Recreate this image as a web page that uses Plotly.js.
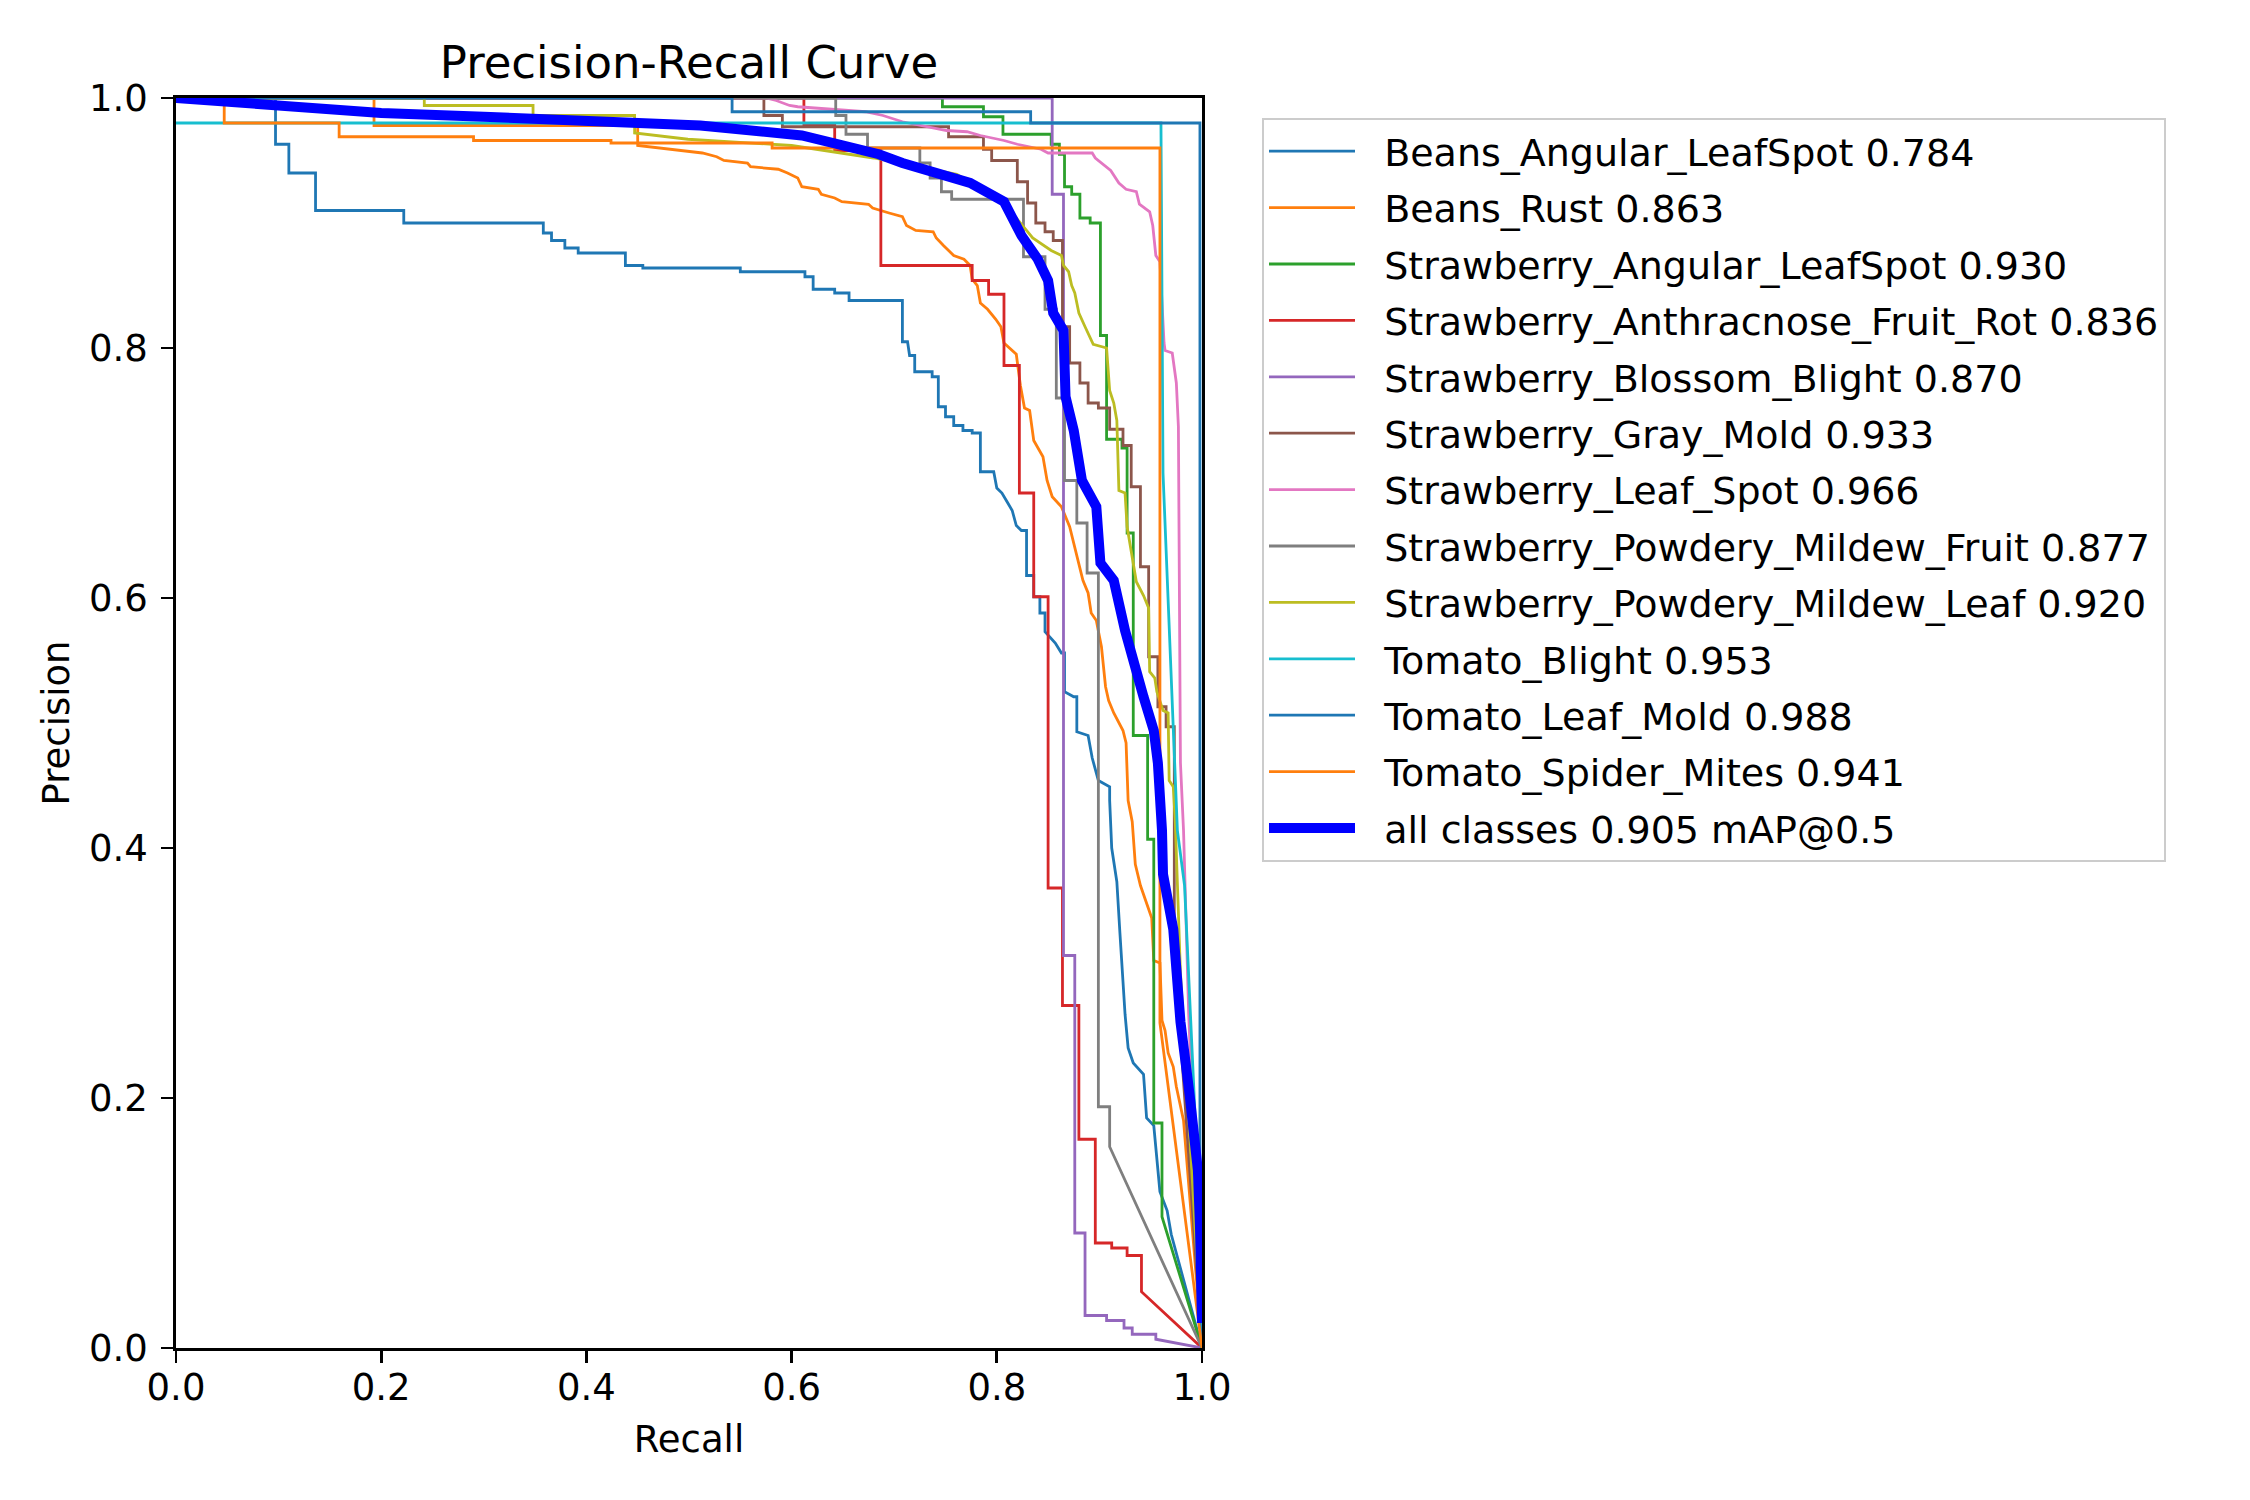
<!DOCTYPE html>
<html>
<head>
<meta charset="utf-8">
<script src="https://cdn.plot.ly/plotly-3.0.1.min.js"></script>
<style>
  body { margin: 0; background: #fff; }
  #chart { width: 2250px; height: 1500px; }
</style>
</head>
<body>
<div id="chart"></div>
<script>
// class names and their AP@0.5
const classNames = [
  "Beans_Angular_LeafSpot", "Beans_Rust", "Strawberry_Angular_LeafSpot",
  "Strawberry_Anthracnose_Fruit_Rot", "Strawberry_Blossom_Blight", "Strawberry_Gray_Mold",
  "Strawberry_Leaf_Spot", "Strawberry_Powdery_Mildew_Fruit", "Strawberry_Powdery_Mildew_Leaf",
  "Tomato_Blight", "Tomato_Leaf_Mold", "Tomato_Spider_Mites",
];
const classAP = [0.784, 0.863, 0.930, 0.836, 0.870, 0.933, 0.966, 0.877, 0.920, 0.953, 0.988, 0.941];
const allClassesMAP = 0.905;

// recall / precision vertices
const rBeansAngular = [0,0.097,0.097,0.110,0.110,0.136,0.136,0.222,0.222,0.358,0.358,0.366,0.366,0.379,0.379,0.392,0.392,0.438,0.438,0.455,0.455,0.550,0.550,0.613,0.613,0.621,0.621,0.642,0.642,0.656,0.656,0.708,0.708,0.713,0.715,0.720,0.720,0.737,0.737,0.743,0.743,0.750,0.750,0.758,0.758,0.767,0.767,0.776,0.776,0.784,0.784,0.797,0.800,0.805,0.810,0.815,0.819,0.824,0.829,0.829,0.836,0.836,0.842,0.842,0.847,0.847,0.857,0.863,0.866,0.866,0.875,0.878,0.878,0.889,0.893,0.896,0.899,0.910,0.910,0.912,0.917,0.920,0.925,0.928,0.933,0.943,0.946,0.953,0.956,0.959,0.966,0.970,1.0];
const pBeansAngular = [1,1,0.963,0.963,0.940,0.940,0.910,0.910,0.900,0.900,0.892,0.892,0.886,0.886,0.880,0.880,0.876,0.876,0.866,0.866,0.864,0.864,0.861,0.861,0.857,0.857,0.847,0.847,0.844,0.844,0.838,0.838,0.805,0.805,0.794,0.794,0.781,0.781,0.777,0.777,0.753,0.753,0.745,0.745,0.738,0.738,0.734,0.734,0.732,0.732,0.701,0.701,0.688,0.684,0.677,0.670,0.658,0.654,0.654,0.618,0.618,0.601,0.601,0.588,0.588,0.573,0.564,0.556,0.556,0.525,0.521,0.521,0.493,0.490,0.472,0.462,0.454,0.449,0.438,0.400,0.373,0.332,0.267,0.240,0.228,0.219,0.184,0.178,0.148,0.125,0.110,0.091,0.0];

const rBeansRust = [0,0.193,0.193,0.450,0.450,0.485,0.513,0.527,0.534,0.557,0.560,0.587,0.596,0.606,0.610,0.626,0.629,0.642,0.649,0.675,0.679,0.695,0.708,0.712,0.721,0.738,0.741,0.748,0.758,0.768,0.774,0.776,0.781,0.784,0.791,0.799,0.804,0.807,0.819,0.823,0.827,0.832,0.836,0.845,0.849,0.854,0.863,0.871,0.875,0.881,0.884,0.889,0.892,0.897,0.902,0.906,0.909,0.914,0.919,0.923,0.926,0.928,0.932,0.935,0.940,0.946,0.951,0.953,0.959,0.961,0.964,0.967,0.972,0.975,0.979,0.982,1.0];
const pBeansRust = [1,1,0.978,0.978,0.962,0.959,0.956,0.953,0.950,0.948,0.945,0.943,0.940,0.936,0.929,0.927,0.923,0.920,0.917,0.915,0.912,0.908,0.905,0.898,0.894,0.893,0.888,0.882,0.874,0.871,0.866,0.855,0.850,0.836,0.831,0.823,0.817,0.804,0.795,0.770,0.752,0.750,0.726,0.713,0.694,0.681,0.673,0.657,0.644,0.625,0.614,0.604,0.588,0.582,0.561,0.529,0.518,0.508,0.500,0.494,0.484,0.438,0.421,0.387,0.370,0.356,0.344,0.310,0.308,0.262,0.254,0.236,0.225,0.209,0.193,0.182,0.0];

const rStrawAngular = [0,0.747,0.747,0.787,0.787,0.806,0.806,0.853,0.853,0.861,0.861,0.866,0.866,0.873,0.873,0.881,0.881,0.891,0.891,0.901,0.901,0.907,0.907,0.922,0.922,0.927,0.927,0.933,0.933,0.947,0.947,0.953,0.953,0.961,0.961,1.0];
const pStrawAngular = [1,1,0.993,0.993,0.985,0.985,0.971,0.971,0.963,0.963,0.955,0.955,0.929,0.929,0.923,0.923,0.904,0.904,0.900,0.900,0.810,0.810,0.727,0.727,0.720,0.720,0.652,0.652,0.490,0.490,0.407,0.407,0.180,0.180,0.105,0.0];

const rAnthracnose = [0,0.612,0.612,0.642,0.642,0.687,0.687,0.776,0.776,0.792,0.792,0.807,0.807,0.822,0.822,0.836,0.836,0.850,0.850,0.864,0.864,0.880,0.880,0.896,0.896,0.912,0.912,0.927,0.927,0.941,0.941,1.0];
const pAnthracnose = [1,1,0.978,0.978,0.958,0.958,0.866,0.866,0.854,0.854,0.843,0.843,0.786,0.786,0.684,0.684,0.601,0.601,0.368,0.368,0.274,0.274,0.167,0.167,0.084,0.084,0.080,0.080,0.074,0.074,0.045,0.0];

const rBlossom = [0,0.854,0.854,0.865,0.865,0.876,0.876,0.886,0.886,0.907,0.907,0.924,0.924,0.932,0.932,0.955,0.955,1.0];
const pBlossom = [1,1,0.923,0.923,0.314,0.314,0.092,0.092,0.026,0.026,0.022,0.022,0.016,0.016,0.011,0.011,0.007,0.0];

const rGrayMold = [0,0.573,0.573,0.591,0.591,0.753,0.753,0.787,0.787,0.795,0.795,0.820,0.820,0.830,0.830,0.838,0.838,0.847,0.847,0.855,0.855,0.864,0.864,0.871,0.871,0.881,0.881,0.889,0.889,0.899,0.899,0.910,0.910,0.923,0.923,0.931,0.931,0.940,0.940,0.948,0.948,0.957,0.957,0.965,0.965,0.973,0.973,1.0];
const pGrayMold = [1,1,0.986,0.986,0.977,0.977,0.969,0.969,0.959,0.959,0.950,0.950,0.933,0.933,0.916,0.916,0.900,0.900,0.893,0.893,0.886,0.886,0.817,0.817,0.788,0.788,0.772,0.772,0.756,0.756,0.752,0.752,0.735,0.735,0.722,0.722,0.689,0.689,0.625,0.625,0.553,0.553,0.513,0.513,0.497,0.497,0.320,0.0];

const rLeafSpot = [0,0.575,0.585,0.598,0.606,0.672,0.689,0.708,0.751,0.771,0.784,0.807,0.820,0.843,0.850,0.893,0.896,0.904,0.911,0.919,0.926,0.936,0.939,0.949,0.952,0.955,0.959,0.963,0.964,0.971,0.975,0.977,0.979,0.982,0.987,1.0];
const pLeafSpot = [1,1,0.998,0.994,0.993,0.989,0.986,0.981,0.974,0.973,0.970,0.966,0.963,0.959,0.956,0.956,0.952,0.947,0.942,0.932,0.927,0.925,0.915,0.909,0.898,0.874,0.869,0.804,0.798,0.796,0.772,0.737,0.468,0.414,0.268,0.0];

const rMildewFruit = [0,0.643,0.643,0.653,0.653,0.674,0.674,0.725,0.725,0.735,0.735,0.746,0.746,0.756,0.756,0.826,0.826,0.847,0.847,0.858,0.858,0.866,0.866,0.878,0.878,0.888,0.888,0.899,0.899,0.910,0.910,1.0];
const pMildewFruit = [1,1,0.986,0.986,0.971,0.971,0.960,0.960,0.948,0.948,0.936,0.936,0.925,0.925,0.919,0.919,0.873,0.873,0.831,0.831,0.760,0.760,0.694,0.694,0.660,0.660,0.620,0.620,0.193,0.193,0.161,0.0];

const rMildewLeaf = [0,0.242,0.242,0.348,0.348,0.447,0.447,0.499,0.60,0.68,0.761,0.805,0.835,0.847,0.853,0.863,0.865,0.870,0.873,0.876,0.880,0.886,0.894,0.907,0.910,0.914,0.917,0.919,0.925,0.927,0.933,0.936,0.943,0.948,0.949,0.954,0.956,0.962,0.967,0.968,0.972,0.974,0.979,1.0];
const pMildewLeaf = [1,1,0.994,0.994,0.986,0.986,0.972,0.967,0.962,0.952,0.939,0.918,0.888,0.881,0.878,0.874,0.866,0.861,0.850,0.844,0.828,0.817,0.803,0.800,0.766,0.756,0.742,0.686,0.684,0.657,0.627,0.613,0.602,0.592,0.541,0.536,0.525,0.510,0.508,0.454,0.449,0.420,0.300,0.0];

const rTomatoBlight = [0,0.960,0.962,0.976,0.983,0.993,1.0];
const pTomatoBlight = [0.98,0.98,0.70,0.414,0.37,0.19,0.0];

const rLeafMold = [0,0.542,0.542,0.833,0.833,0.998,0.998,1.0];
const pLeafMold = [1,1,0.989,0.989,0.980,0.980,0.02,0.0];

const rSpiderMites = [0,0.047,0.047,0.159,0.159,0.290,0.290,0.424,0.424,0.581,0.581,0.959,0.959,1.0];
const pSpiderMites = [1,1,0.980,0.980,0.969,0.969,0.966,0.966,0.964,0.964,0.960,0.960,0.26,0.0];

const rAll = [0,0.05,0.10,0.14,0.20,0.30,0.40,0.511,0.61,0.685,0.708,0.741,0.774,0.807,0.814,0.824,0.840,0.850,0.855,0.865,0.867,0.875,0.883,0.897,0.901,0.914,0.925,0.935,0.943,0.953,0.957,0.961,0.962,0.972,0.979,0.988,0.996,0.998,1.0];
const pAll = [1.0,0.997,0.993,0.990,0.988,0.985,0.982,0.978,0.970,0.955,0.948,0.940,0.932,0.917,0.906,0.890,0.871,0.854,0.828,0.814,0.761,0.734,0.694,0.673,0.628,0.614,0.574,0.548,0.521,0.494,0.468,0.414,0.379,0.335,0.261,0.202,0.142,0.098,0.02];

const recalls = [rBeansAngular, rBeansRust, rStrawAngular, rAnthracnose, rBlossom, rGrayMold,
  rLeafSpot, rMildewFruit, rMildewLeaf, rTomatoBlight, rLeafMold, rSpiderMites];
const precisions = [pBeansAngular, pBeansRust, pStrawAngular, pAnthracnose, pBlossom, pGrayMold,
  pLeafSpot, pMildewFruit, pMildewLeaf, pTomatoBlight, pLeafMold, pSpiderMites];

// matplotlib tab10 cycle
const tab10 = ["#1f77b4", "#ff7f0e", "#2ca02c", "#d62728", "#9467bd",
  "#8c564b", "#e377c2", "#7f7f7f", "#bcbd22", "#17becf"];

// a little room between the legend line and its label
const PAD = "\u00a0\u00a0";

const traces = classNames.map((name, i) => ({
  x: recalls[i],
  y: precisions[i],
  type: "scatter",
  mode: "lines",
  name: PAD + name + " " + classAP[i].toFixed(3),
  legendgroup: "g" + i,
  line: { color: tab10[i % 10], width: 2.8 },
  hoverinfo: "skip",
}));

traces.push({
  x: rAll,
  y: pAll,
  type: "scatter",
  mode: "lines",
  name: PAD + "all classes " + allClassesMAP.toFixed(3) + " mAP@0.5",
  legendgroup: "gall",
  line: { color: "#0000ff", width: 10 },
  hoverinfo: "skip",
});

const FONT = "DejaVu Sans, Liberation Sans, sans-serif";

const axisStyle = {
  range: [0, 1],
  tickvals: [0, 0.2, 0.4, 0.6, 0.8, 1.0],
  tickformat: ".1f",
  ticks: "outside",
  ticklen: 12,
  tickwidth: 2.7,
  tickcolor: "#000",
  showline: true,
  linecolor: "#000",
  linewidth: 2.7,
  mirror: true,
  showgrid: false,
  zeroline: false,
  tickfont: { family: FONT, size: 37, color: "#000" },
  fixedrange: true,
};

Plotly.newPlot(
  "chart",
  traces,
  {
    width: 2250,
    height: 1500,
    title: {
      text: "Precision-Recall Curve",
      font: { family: FONT, size: 45, color: "#000" },
      x: 0.5,
      xref: "paper",
      xanchor: "center",
      y: 1 - 62 / 1500,
      yanchor: "middle",
    },
    xaxis: {
      ...axisStyle,
      ticklabelstandoff: -7,
      title: { text: "Recall", font: { family: FONT, size: 37, color: "#000" }, standoff: 18 },
    },
    yaxis: {
      ...axisStyle,
      ticklabelstandoff: 6,
      title: { text: "Precision", font: { family: FONT, size: 37, color: "#000" }, standoff: 8 },
    },
    legend: {
      x: (1262 - 176) / 1026,
      xanchor: "left",
      y: (1348 - 118) / 1250,
      yanchor: "top",
      font: { family: FONT, size: 38, color: "#000" },
      bgcolor: "#ffffff",
      bordercolor: "#cccccc",
      borderwidth: 2,
      itemwidth: 86,
      tracegroupgap: 4,
    },
    showlegend: true,
    paper_bgcolor: "#ffffff",
    plot_bgcolor: "#ffffff",
    margin: { l: 176, r: 1048, t: 98, b: 152 },
  },
  { staticPlot: true }
);
</script>
</body>
</html>
